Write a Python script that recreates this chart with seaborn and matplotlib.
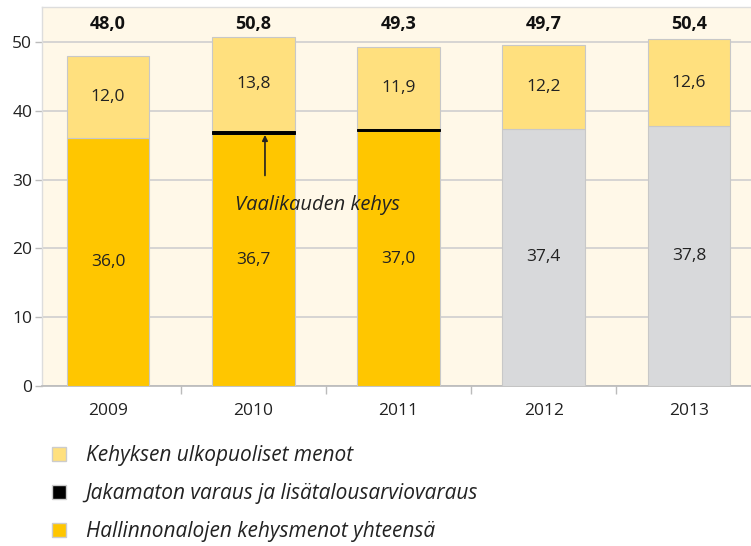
import matplotlib
matplotlib.use("Agg")
import matplotlib.pyplot as plt
import seaborn as sns
import pandas as pd
from matplotlib.patches import Patch

years = ["2009", "2010", "2011", "2012", "2013"]
base = [36.0, 36.7, 37.0, 37.4, 37.8]
reserve = [0.0, 0.3, 0.4, 0.0, 0.0]
outside = [12.0, 13.8, 11.9, 12.2, 12.6]
totals = ["48,0", "50,8", "49,3", "49,7", "50,4"]
base_labels = ["36,0", "36,7", "37,0", "37,4", "37,8"]
outside_labels = ["12,0", "13,8", "11,9", "12,2", "12,6"]
legend_labels = ["Kehyksen ulkopuoliset menot",
                 "Jakamaton varaus ja lisätalousarviovaraus",
                 "Hallinnonalojen kehysmenot yhteensä"]
annotation = "Vaalikauden kehys"

YELLOW = "#FFC600"
LIGHT = "#FFE07E"
GRAY = "#D8D9DB"
BG = "#FFF8E8"

sns.set_theme(style="white")
plt.rcParams['font.family'] = ['Open Sans', 'DejaVu Sans']

df = pd.DataFrame({"year": years, "base": base, "reserve": reserve, "outside": outside})
df["b2"] = df["base"] + df["reserve"]

fig = plt.figure(figsize=(7.51, 5.46), dpi=100)
ax = fig.add_axes([42/751, 1-386/546, 709/751, 379/546])
ax.set_facecolor(BG)

base_colors = [YELLOW, YELLOW, YELLOW, GRAY, GRAY]
w = 0.57
sns.barplot(data=df, x="year", y="base", hue="year", palette=base_colors, legend=False,
            saturation=1, width=w, edgecolor="#C8C8C8", linewidth=0.8, ax=ax, zorder=3)
n_before = len(ax.patches)
sns.barplot(data=df, x="year", y="reserve", bottom=df["base"], color="black", saturation=1,
            width=w, edgecolor="black", linewidth=0, ax=ax, zorder=4)
for p in ax.patches[n_before:]:
    if p.get_height() > 0:
        p.set_linewidth(0.7)
sns.barplot(data=df, x="year", y="outside", bottom=df["b2"], color=LIGHT, saturation=1,
            width=w, edgecolor="#C8C8C8", linewidth=0.8, ax=ax, zorder=3)

ax.set_ylim(0, 55.1)
ax.set_xlim(-0.454, 4.427)
ax.set_yticks(range(0, 51, 10))
ax.yaxis.grid(True, color="#CFCFCF", linewidth=1.2, zorder=0)
ax.set_axisbelow(True)
ax.set_xlabel("")
ax.set_ylabel("")
ax.set_xticks(range(5))
ax.set_xticklabels(years)
ax.tick_params(axis="x", length=0, labelsize=12.5, pad=12, colors="#222222")
ax.tick_params(axis="y", length=5, width=1, color="#BBBBBB", labelsize=12.5, colors="#222222", pad=2)
ax.yaxis.set_tick_params(which="major", direction="out", left=True)
ax.set_xticks([0.5, 1.5, 2.5, 3.5], minor=True)
ax.tick_params(axis="x", which="minor", length=6, width=1, color="#BBBBBB", bottom=True)

for s in ["top", "left"]:
    ax.spines[s].set_color("#DDDDDD")
    ax.spines[s].set_linewidth(1)
ax.spines["bottom"].set_color("#BBBBBB")
ax.spines["right"].set_visible(False)

for i in range(5):
    ax.text(i, base[i] / 2, base_labels[i], ha="center", va="center", fontsize=12.5, color="#222222", zorder=5)
    ax.text(i, base[i] + reserve[i] + outside[i] / 2, outside_labels[i], ha="center", va="center",
            fontsize=12.5, color="#222222", zorder=5)
    ax.text(i, 52.6, totals[i], ha="center", va="center", fontsize=13, fontweight="bold", color="#111111", zorder=5)

ax.annotate("", xy=(1.081, 36.9), xytext=(1.081, 30.2),
            arrowprops=dict(arrowstyle="-|>", color="#222222", lw=1.2, mutation_scale=8), zorder=6)
ax.text(0.875, 26.3, annotation, ha="left", va="center", fontsize=14.5, style="italic", color="#222222", zorder=6)

handles = [Patch(facecolor=LIGHT, edgecolor="#CCCCCC"),
           Patch(facecolor="black", edgecolor="#CCCCCC"),
           Patch(facecolor=YELLOW, edgecolor="#CCCCCC")]
leg = fig.legend(handles, legend_labels, loc="upper left", bbox_to_anchor=(44/751, 1-437/546),
                 frameon=False, prop={"size": 15, "style": "italic"}, handlelength=0.65, handleheight=0.65,
                 handletextpad=0.95, labelspacing=0.82, borderaxespad=0)
for t in leg.get_texts():
    t.set_color("#222222")

fig.savefig("out.png", dpi=100)
